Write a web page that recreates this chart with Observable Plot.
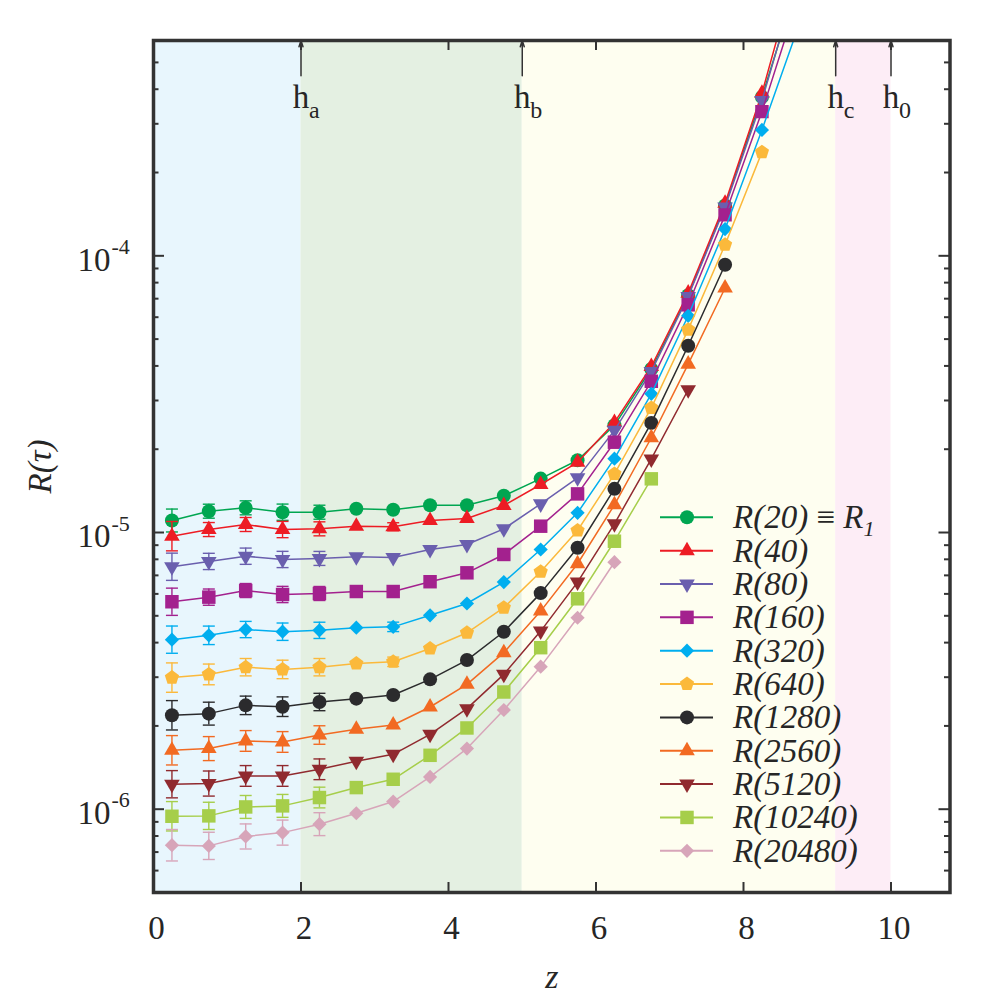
<!DOCTYPE html>
<html><head><meta charset="utf-8">
<script src="https://cdn.jsdelivr.net/npm/d3@7"></script>
<script src="https://cdn.jsdelivr.net/npm/@observablehq/plot@0.6"></script>
<style>
body{margin:0;background:#fff;}
#wrap{position:relative;width:1000px;height:1000px;}
svg text{font-family:"Liberation Serif","DejaVu Serif",serif;}
</style></head><body><div id="wrap"></div>
<script>
// ---------------- data ----------------
const z = [0.25,0.75,1.25,1.75,2.25,2.75,3.25,3.75,4.25,4.75,5.25,5.75,6.25,6.75,7.25,7.75,8.25,8.75];
const unit = 1e-5; // values below are in units of 1e-5
const R20    = [1.105,1.194,1.228,1.184,1.184,1.218,1.208,1.255,1.255,1.357,1.566,1.824,2.44,3.90,7.20,15.2,37.5,100];
const R40    = [0.970,1.025,1.069,1.025,1.031,1.054,1.049,1.105,1.124,1.252,1.491,1.794,2.50,3.98,7.33,15.5,38.7,117];
const R80    = [0.752,0.786,0.821,0.799,0.806,0.817,0.812,0.868,0.905,1.031,1.269,1.576,2.34,3.82,7.13,15.0,36.4,104];
const R160   = [0.562,0.584,0.617,0.597,0.602,0.612,0.612,0.664,0.715,0.833,1.054,1.379,2.12,3.52,6.65,14.06,33.2,87];
const R320   = [0.410,0.425,0.446,0.438,0.443,0.453,0.456,0.502,0.554,0.662,0.868,1.178,1.849,3.17,6.07,12.49,28.5,68];
const R640   = [0.299,0.307,0.326,0.320,0.326,0.336,0.341,0.381,0.434,0.535,0.721,1.017,1.629,2.82,5.41,10.96,23.7];
const R1280  = [0.2185,0.2215,0.2373,0.2347,0.2440,0.2509,0.2586,0.2946,0.3460,0.4379,0.6039,0.881,1.438,2.49,4.73,9.28];
const R2560  = [0.1633,0.1656,0.1765,0.1750,0.1854,0.1944,0.2016,0.2341,0.2827,0.3679,0.5199,0.771,1.259,2.20,4.06,7.65];
const R5120  = [0.1231,0.1238,0.1319,0.1319,0.1394,0.1490,0.1579,0.1865,0.2309,0.3072,0.4403,0.662,1.075,1.845,3.28];
const R10240 = [0.0943,0.0946,0.1019,0.1028,0.1102,0.1197,0.1283,0.1566,0.1966,0.2652,0.3835,0.576,0.930,1.563];
const R20480 = [0.0741,0.0737,0.0797,0.0823,0.0883,0.0967,0.1066,0.1308,0.1656,0.2283,0.3275,0.492,0.781];

// relative error bars (percent), by point index
const eR20    = [10,6,6,7,6];
const eR40    = [13,6,6,7,6,null,3.4];
const eR80    = [12,7,7,7,6];
const eR160   = [12,7,6,7,6];
const eR320   = [12,8,7,7.5,7,null,4];
const eR640   = [13,9,7.5,8,7.5,null,4];
const eR1280  = [13,10,8,8.5,7.5];
const eR2560  = [13,10.5,9,9,8];
const eR5120  = [12,11,9,9,9];
const eR10240 = [13,12,10,10,9];
const eR20480 = [14,12,11,11,10];

const names  = ["R(20)","R(40)","R(80)","R(160)","R(320)","R(640)","R(1280)","R(2560)","R(5120)","R(10240)","R(20480)"];
const values = [R20,R40,R80,R160,R320,R640,R1280,R2560,R5120,R10240,R20480];
const errors = [eR20,eR40,eR80,eR160,eR320,eR640,eR1280,eR2560,eR5120,eR10240,eR20480];
const colors = ["#00a651","#ed1c24","#6a5fae","#a3218e","#00aeef","#fbb93b","#2b2b2d","#f26a22","#902a2f","#a6ce4a","#d7a5b9"];
const markers = ["circle","triangle","triDown","square","diamond","pentagon","circle","triangle","triDown","square","diamond"];

const xTicks = [0,2,4,6,8,10];
const xTickLabels = ["0","2","4","6","8","10"];
const yMajor = [1e-6,1e-5,1e-4];
const yMajorExp = ["-6","-5","-4"];
const yMinor = [5e-7,6e-7,7e-7,8e-7,9e-7,2e-6,3e-6,4e-6,5e-6,6e-6,7e-6,8e-6,9e-6,2e-5,3e-5,4e-5,5e-5,6e-5,7e-5,8e-5,9e-5,2e-4,3e-4,4e-4,5e-4];

const hValues = [2,5,9.25,10];
const hSubs = ["a","b","c","0"];
const bandColors = ["#e8f6fd","#e4f0e2","#fefef0","#fdedf6"];

// ---------------- symbols ----------------
const sqrt3 = Math.sqrt(3);
const triDown = {draw(ctx, size){ const y = -Math.sqrt(size/(sqrt3*3)); ctx.moveTo(0,-y*2); ctx.lineTo(-sqrt3*y,y); ctx.lineTo(sqrt3*y,y); ctx.closePath(); }};
const pentagon = {draw(ctx, size){ const R = Math.sqrt(2*size/(5*Math.sin(2*Math.PI/5))); for(let k=0;k<5;k++){ const a=-Math.PI/2+k*2*Math.PI/5; const px=R*Math.cos(a), py=R*Math.sin(a); if(k===0) ctx.moveTo(px,py); else ctx.lineTo(px,py);} ctx.closePath(); }};
const capSym = {draw(ctx){ ctx.moveTo(-6,0); ctx.lineTo(6,0); }};
const symMap = {circle:"circle", triangle:"triangle", triDown: triDown, square:"square", diamond:"diamond2", pentagon: pentagon};
const rMap = {circle:7, triangle:5.8, triDown:5.8, square:7.6, diamond:6.4, pentagon:6.5};
const d3SymMap = {circle:d3.symbolCircle, triangle:d3.symbolTriangle, triDown:triDown, square:d3.symbolSquare, diamond:d3.symbolDiamond2, pentagon:pentagon};

// ---------------- layout ----------------
const W = 1000, H = 1000, mL = 153, mR = 50.5, mT = 40, mB = 108;
const innerW = W - mL - mR, innerH = H - mT - mB;
const xDomain = [0, 10.8], yDomain = [5e-7, 6e-4];
const ink = "#333333", txt = "#262626";
const font = "Liberation Serif, DejaVu Serif, serif";

const marks = [];
// background bands
const edges = [0, ...hValues];
for (let i = 0; i < 4; i++) {
  marks.push(Plot.rect([{x1: edges[i], x2: edges[i+1]}], {x1: "x1", x2: "x2", fill: bandColors[i]}));
}
// series
values.forEach((vals, i) => {
  const pts = vals.map((v, j) => ({z: z[j], v: v * unit, e: errors[i][j]})).filter(d => d.v != null);
  const errPts = pts.filter(d => d.e != null);
  const lo = d => d.v / (1 + d.e / 100), hi = d => d.v * (1 + d.e / 100);
  const c = colors[i];
  marks.push(Plot.ruleX(errPts, {x: "z", y1: lo, y2: hi, stroke: c, strokeWidth: 1.4}));
  marks.push(Plot.dot(errPts, {x: "z", y: lo, symbol: capSym, fill: "none", stroke: c, strokeWidth: 1.4}));
  marks.push(Plot.dot(errPts, {x: "z", y: hi, symbol: capSym, fill: "none", stroke: c, strokeWidth: 1.4}));
  marks.push(Plot.line(pts, {x: "z", y: "v", stroke: c, strokeWidth: 1.5, clip: true}));
  marks.push(Plot.dot(pts, {x: "z", y: "v", symbol: symMap[markers[i]], r: rMap[markers[i]], fill: c, stroke: "none", clip: true}));
});
// ticks (inward, mirrored)
marks.push(Plot.tickX(xTicks, {x: d => d, insetTop: innerH - 10, stroke: ink, strokeWidth: 2}));
marks.push(Plot.tickX(xTicks, {x: d => d, insetBottom: innerH - 10, stroke: ink, strokeWidth: 2}));
marks.push(Plot.tickY(yMajor, {y: d => d, insetRight: innerW - 11, stroke: ink, strokeWidth: 2}));
marks.push(Plot.tickY(yMajor, {y: d => d, insetLeft: innerW - 11, stroke: ink, strokeWidth: 2}));
marks.push(Plot.tickY(yMinor, {y: d => d, insetRight: innerW - 5.5, stroke: ink, strokeWidth: 2}));
marks.push(Plot.tickY(yMinor, {y: d => d, insetLeft: innerW - 5.5, stroke: ink, strokeWidth: 2}));
// frame
marks.push(Plot.frame({stroke: ink, strokeWidth: 3.5}));
// arrows & h labels
marks.push(Plot.arrow(hValues, {x1: d => d, x2: d => d, y1: () => yDomain[1] / 1.34, y2: () => yDomain[1], stroke: ink, strokeWidth: 1.5, headLength: 6.5, headAngle: 36}));
marks.push(Plot.text(hValues, {x: d => d, text: () => "h", frameAnchor: "top", dy: 57.4, lineAnchor: "middle", textAnchor: "middle", fontSize: 33, fill: txt}));
marks.push(Plot.text(hValues, {x: d => d, text: (d, i) => hSubs[i], frameAnchor: "top", dx: 8, dy: 69.5, lineAnchor: "middle", textAnchor: "start", fontSize: 24, fill: txt}));
// tick labels
marks.push(Plot.text(xTicks, {x: d => d, text: (d, i) => xTickLabels[i], frameAnchor: "bottom", dx: 3, dy: 36.4, lineAnchor: "middle", textAnchor: "middle", fontSize: 33, fill: txt}));
marks.push(Plot.text(yMajor, {y: d => d, text: () => "10", frameAnchor: "left", dx: -43, dy: 4.4, lineAnchor: "middle", textAnchor: "end", fontSize: 33, fill: txt}));
marks.push(Plot.text(yMajor, {y: d => d, text: (d, i) => yMajorExp[i], frameAnchor: "left", dx: -42, dy: -9, lineAnchor: "middle", textAnchor: "start", fontSize: 22, fill: txt}));
// axis titles
marks.push(Plot.text(["z"], {text: d => d, frameAnchor: "bottom", dy: 85, lineAnchor: "middle", textAnchor: "middle", fontSize: 34, fontStyle: "italic", fill: txt}));
marks.push(Plot.text(["R(τ)"], {text: d => d, frameAnchor: "left", dx: -113, rotate: -90, lineAnchor: "middle", textAnchor: "middle", fontSize: 33, fontStyle: "italic", fill: txt}));

const chart = Plot.plot({
  width: W, height: H,
  marginLeft: mL, marginRight: mR, marginTop: mT, marginBottom: mB,
  x: {domain: xDomain, axis: null},
  y: {type: "log", domain: yDomain, axis: null},
  style: {fontFamily: font, background: "white", overflow: "visible"},
  marks
});
const wrap = document.getElementById("wrap");
wrap.appendChild(chart);

// ---------------- legend (overlay) ----------------
const leg = d3.select(wrap).append("svg")
  .attr("width", 300).attr("height", 400)
  .style("position", "absolute").style("left", "640px").style("top", "495px")
  .style("overflow", "visible");
const lx0 = 20, lx1 = 73, lxm = 47, ltx = 93, ly0 = 22.3, ldy = 33.35;
names.forEach((name, i) => {
  const y = ly0 + i * ldy;
  const g = leg.append("g");
  g.append("line").attr("x1", lx0).attr("x2", lx1).attr("y1", y).attr("y2", y)
    .attr("stroke", colors[i]).attr("stroke-width", 2);
  const m = markers[i];
  g.append("path").attr("transform", `translate(${lxm},${y})`)
    .attr("d", d3.symbol(d3SymMap[m], rMap[m] * rMap[m] * Math.PI)())
    .attr("fill", colors[i]);
  const t = g.append("text").attr("x", ltx).attr("y", y + 11)
    .attr("font-size", 33).attr("fill", txt);
  t.append("tspan").attr("font-style", "italic").text(name);
  if (i === 0) {
    t.append("tspan").text(" ≡ ");
    t.append("tspan").attr("font-style", "italic").text("R");
    t.append("tspan").attr("font-style", "italic").attr("font-size", 22).attr("dy", 8).text("1");
  }
});
</script>
</body></html>
